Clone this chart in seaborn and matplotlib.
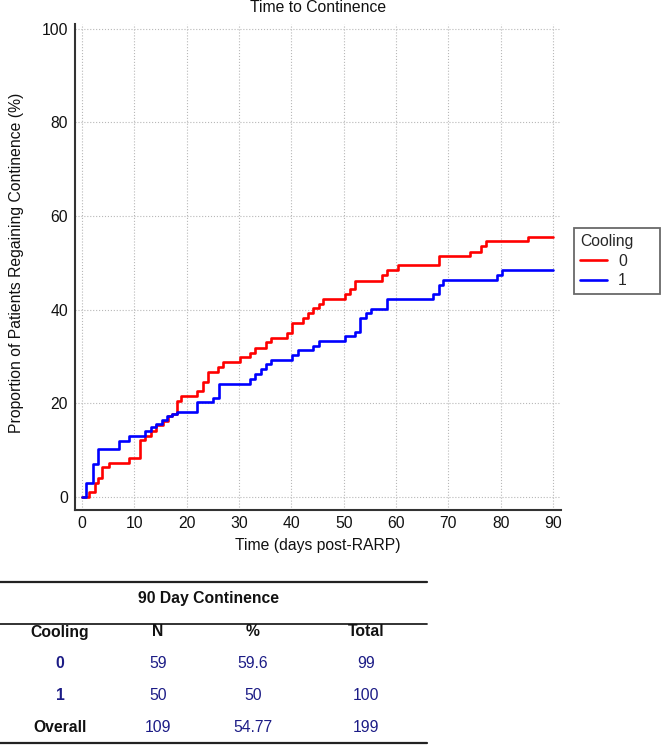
import numpy as np
import pandas as pd
import matplotlib
matplotlib.use("Agg")
import matplotlib.pyplot as plt
from matplotlib.lines import Line2D
from matplotlib.ticker import MultipleLocator
import seaborn as sns

# ---------------- data ----------------
time_cool0 = [0, 1.4, 2.4, 3.0, 3.9, 5.1, 9.0, 11.1, 12.0, 13.1, 14.1, 15.5, 16.5, 17.1,
              18.1, 18.9, 21.9, 23.1, 24.0, 25.9, 26.9, 30.1, 32.1, 33.1, 35.2, 36.1, 39.1,
              40.1, 42.2, 43.1, 44.2, 45.2, 46.1, 50.3, 51.2, 52.2, 57.3, 58.2, 60.3, 68.2,
              74.1, 76.2, 77.2, 85.2, 90]
pct_cool0 = [0, 1.1, 2.9, 4.1, 6.3, 7.2, 8.3, 12.2, 13.1, 14.1, 15.4, 16.2, 17.2, 17.7,
             20.5, 21.6, 22.6, 24.6, 26.7, 27.8, 28.9, 29.8, 30.8, 31.9, 33.0, 34.0, 35.1,
             37.1, 38.2, 39.2, 40.3, 41.2, 42.2, 43.3, 44.4, 46.2, 47.4, 48.5, 49.6, 51.4,
             52.4, 53.5, 54.6, 55.5, 55.5]

time_cool1 = [0, 0.8, 2.0, 3.0, 7.0, 9.0, 12.0, 13.1, 14.1, 15.2, 16.2, 17.1, 18.1, 22.0,
              25.1, 26.1, 32.1, 33.1, 34.1, 35.2, 36.1, 40.2, 41.2, 44.2, 45.2, 50.3, 52.2,
              53.1, 54.2, 55.2, 58.2, 67.1, 68.2, 69.0, 79.2, 80.3, 90]
pct_cool1 = [0, 2.9, 7.0, 10.2, 12.0, 13.0, 14.1, 15.0, 15.6, 16.5, 17.2, 17.7, 18.2, 20.2,
             21.1, 24.1, 25.1, 26.2, 27.3, 28.3, 29.3, 30.3, 31.4, 32.3, 33.4, 34.3, 35.3,
             38.3, 39.2, 40.2, 42.3, 43.3, 45.3, 46.4, 47.3, 48.4, 48.4]

groups = ["0", "1"]
group_colors = ["#ff0000", "#0000ff"]

x_ticks = [0, 10, 20, 30, 40, 50, 60, 70, 80, 90]
y_ticks = [0, 20, 40, 60, 80, 100]

table_title = "90 Day Continence"
table_header = ["Cooling", "N", "%", "Total"]
table_group = ["0", "1", "Overall"]
table_n = ["59", "50", "109"]
table_pct = ["59.6", "50", "54.77"]
table_total = ["99", "100", "199"]

# ---------------- figure ----------------
sns.set_theme(style="white")
plt.rcParams["font.family"] = ["Liberation Sans", "DejaVu Sans"]

FS = 11.3
W, H = 662, 745
fig = plt.figure(figsize=(W / 100, H / 100), dpi=100)
fig.patch.set_facecolor("white")

ax_l, ax_r, ax_t, ax_b = 75, 561, 24, 510
ax = fig.add_axes([ax_l / W, 1 - ax_b / H, (ax_r - ax_l) / W, (ax_b - ax_t) / H])

df = pd.concat([
    pd.DataFrame({"time": time_cool0, "pct": pct_cool0, "Cooling": groups[0]}),
    pd.DataFrame({"time": time_cool1, "pct": pct_cool1, "Cooling": groups[1]}),
], ignore_index=True)

sns.lineplot(data=df, x="time", y="pct", hue="Cooling", hue_order=groups,
             palette=dict(zip(groups, group_colors)), drawstyle="steps-post",
             estimator=None, sort=False, linewidth=1.9, ax=ax, legend=False)

ax.set_xlim(-1.35, 91.5)
ax.set_ylim(-2.8, 101.0)
ax.set_xticks(x_ticks)
ax.set_yticks(y_ticks)
ax.xaxis.set_minor_locator(MultipleLocator(5))
ax.yaxis.set_minor_locator(MultipleLocator(10))
ax.grid(True, which="major", linestyle=":", color="#b8b8b8", linewidth=0.8)
ax.set_axisbelow(True)

for s in ["top", "right"]:
    ax.spines[s].set_visible(False)
for s in ["left", "bottom"]:
    ax.spines[s].set_color("#333333")
    ax.spines[s].set_linewidth(1.5)

ax.tick_params(which="both", direction="in", colors="#333333", labelcolor="#111111",
               labelsize=FS)
ax.tick_params(which="major", length=6, width=1.3)
ax.tick_params(which="minor", length=3, width=1.1)
ax.tick_params(axis="y", pad=5)
ax.tick_params(axis="x", pad=4)

ax.set_xlabel("Time (days post-RARP)", fontsize=FS, color="#111111")
ax.xaxis.set_label_coords(0.5, -0.058)
ax.set_ylabel("Proportion of Patients Regaining Continence (%)", fontsize=FS,
              color="#111111")
ax.yaxis.set_label_coords(-0.104, 0.508)
ax.set_title("Time to Continence", fontsize=FS, color="#111111", pad=9)

handles = [Line2D([0], [0], color=c, lw=1.9) for c in group_colors]
leg = fig.legend(handles, groups, title="Cooling", loc="upper left",
                 bbox_to_anchor=(574 / W, 1 - 297 / H, 86 / W, 69 / H), mode="expand",
                 frameon=True, fancybox=False,
                 fontsize=FS, title_fontsize=FS, handlelength=1.7,
                 borderpad=0.4, labelspacing=0.28, handletextpad=0.7, borderaxespad=0)
leg.get_frame().set_edgecolor("#444444")
leg.get_frame().set_linewidth(1.3)
leg._legend_box.align = "left"

# ---------------- table ----------------
navy = "#1c1c86"
tab_x0, tab_x1 = 0, 427
for yy, lw in [(582, 1.6), (624, 1.3), (743, 1.6)]:
    fig.add_artist(Line2D([tab_x0 / W, tab_x1 / W], [1 - yy / H, 1 - yy / H],
                          color="#222222", lw=lw, transform=fig.transFigure))

col_x = [60, 158, 253, 366]
fig.text(208 / W, 1 - 599 / H, table_title, ha="center", va="center",
         fontsize=FS, fontweight="bold", color="#111111")
for cx, txt in zip(col_x, table_header):
    fig.text(cx / W, 1 - 632 / H, txt, ha="center", va="center",
             fontsize=FS, fontweight="bold", color="#111111")
row_y = [664, 696, 727]
for i, ry in enumerate(row_y):
    gcol = "#111111" if table_group[i] == "Overall" else navy
    fig.text(col_x[0] / W, 1 - ry / H, table_group[i], ha="center", va="center",
             fontsize=FS, fontweight="bold", color=gcol)
    for cx, val in zip(col_x[1:], [table_n[i], table_pct[i], table_total[i]]):
        fig.text(cx / W, 1 - ry / H, val, ha="center", va="center",
                 fontsize=FS, color=navy)

fig.savefig("out.png", dpi=100)
